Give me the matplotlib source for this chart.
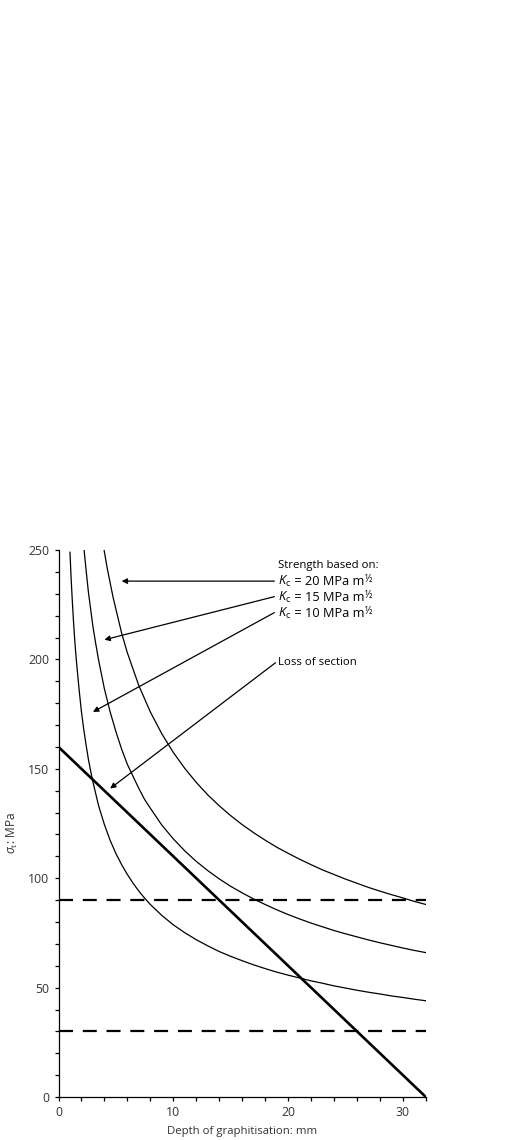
# plot.py
# Failure stress vs depth of graphitisation, saved as out.png

import matplotlib.pyplot as plt
from matplotlib.ticker import MultipleLocator
from matplotlib.offsetbox import TextArea, HPacker, AnnotationBbox

plt.rcParams["font.family"] = ["Open Sans", "DejaVu Sans"]
plt.rcParams["mathtext.fontset"] = "custom"
plt.rcParams["mathtext.rm"] = "Open Sans"
plt.rcParams["mathtext.it"] = "Open Sans:italic"
plt.rcParams["mathtext.sf"] = "Open Sans"

# values
kc10_x = [1.0, 1.1, 1.2, 1.3, 1.4, 1.5, 1.6, 1.8, 2.0, 2.2, 2.4, 2.6, 2.8, 3.0, 3.5, 4.0, 4.5, 5.0, 5.5, 6.0,
          6.5, 7.0, 7.5, 8.0, 9.0, 10.0, 11.0, 12.0, 13.0, 14.0, 15.0, 16.0, 17.0, 18.0, 19.0, 20.0, 21.0, 22.0,
          23.0, 24.0, 25.0, 26.0, 27.0, 28.0, 29.0, 30.0, 31.0, 32.0]
kc10_y = [249, 237, 227, 218, 210, 203, 197, 186, 176, 168, 161, 154.5, 149, 144, 133, 124.5, 117.3, 111.3, 106.2, 101.7,
          97.7, 94.1, 90.9, 88, 83, 78.7, 75.1, 71.9, 69.1, 66.5, 64.3, 62.3, 60.4, 58.7, 57.1, 55.7, 54.4, 53.1,
          52, 50.8, 49.8, 48.8, 47.9, 47.1, 46.2, 45.5, 44.7, 44]
kc15_x = [2.23, 2.4, 2.6, 2.8, 3.0, 3.25, 3.5, 3.75, 4.0, 4.5, 5.0, 5.5, 6.0, 6.5, 7.0, 7.5, 8.0, 9.0, 10.0, 11.0,
          12.0, 13.0, 14.0, 15.0, 16.0, 17.0, 18.0, 19.0, 20.0, 21.0, 22.0, 23.0, 24.0, 25.0, 26.0, 27.0, 28.0,
          29.0, 30.0, 31.0, 32.0]
kc15_y = [250, 241, 231, 223, 215, 207, 199.5, 193, 186.5, 176, 167, 159, 152, 146.5, 141, 136, 132, 124.3, 118,
          112.5, 107.7, 103.5, 99.7, 96.3, 93.3, 90.5, 88, 85.6, 83.4, 81.4, 79.5, 77.8, 76.1, 74.6, 73.2, 71.8,
          70.5, 69.3, 68.1, 67, 66]
kc20_x = [3.97, 4.25, 4.5, 4.75, 5.0, 5.5, 6.0, 6.5, 7.0, 7.5, 8.0, 8.5, 9.0, 10.0, 11.0, 12.0, 13.0, 14.0, 15.0,
          16.0, 17.0, 18.0, 19.0, 20.0, 21.0, 22.0, 23.0, 24.0, 25.0, 26.0, 27.0, 28.0, 29.0, 30.0, 31.0, 32.0]
kc20_y = [250, 241.5, 235, 228.5, 223, 212, 203, 195.5, 188, 182, 176, 171, 166, 157.5, 150.2, 143.8, 138.1, 133.1,
          128.6, 124.5, 120.8, 117.4, 114.2, 111.4, 108.7, 106.2, 103.8, 101.7, 99.6, 97.7, 95.8, 94.1, 92.5,
          91, 89.4, 88]
loss_x = [0, 32]
loss_y = [160, 0]
dash_levels = [90, 30]

# arrow labels, text y, tail and head (data units)
kc_values = ["20", "15", "10"]
label_y = [235.8, 228.5, 221.2]
arrow_tails = [(18.8, 235.8), (18.8, 228.7), (18.8, 221.4), (18.9, 198.5)]
arrow_heads = [(5.5, 235.8), (4.0, 209), (3.0, 176), (4.5, 141)]


def kc_label(ax, x, y, val):
    fs = 9.2
    parts = [
        TextArea(r"$K_{\rm c}$", textprops=dict(fontsize=fs)),
        TextArea(f" = {val} MPa m", textprops=dict(fontsize=fs)),
        TextArea(r"$^{½}$", textprops=dict(fontsize=fs + 1)),
    ]
    box = HPacker(children=parts, align="baseline", pad=0, sep=0)
    ab = AnnotationBbox(box, (x, y), box_alignment=(0, 0.5), frameon=False, pad=0)
    ax.add_artist(ab)


def main():
    fig = plt.figure(figsize=(5.2, 11.4), dpi=100)
    ax = fig.add_axes([0.1125, 0.0377, 0.7065, 0.4798])

    for xs, ys in [(kc10_x, kc10_y), (kc15_x, kc15_y), (kc20_x, kc20_y)]:
        ax.plot(xs, ys, color="black", lw=0.9)
    ax.plot(loss_x, loss_y, color="black", lw=1.9, solid_capstyle="butt")
    for lv in dash_levels:
        ax.plot([0, 32], [lv, lv], color="black", lw=1.6,
                linestyle=(0, (6.3, 4.4)))

    ax.set_xlim(0, 32)
    ax.set_ylim(0, 250)
    ax.xaxis.set_major_locator(MultipleLocator(10))
    ax.xaxis.set_minor_locator(MultipleLocator(2))
    ax.yaxis.set_major_locator(MultipleLocator(50))
    ax.yaxis.set_minor_locator(MultipleLocator(10))
    ax.tick_params(which="both", direction="out", length=3, width=0.9,
                   labelsize=8.8, labelcolor="#333333")
    for s in ["top", "right"]:
        ax.spines[s].set_visible(False)
    for s in ["left", "bottom"]:
        ax.spines[s].set_linewidth(0.9)

    ax.set_xlabel("Depth of graphitisation: mm", fontsize=8.2, color="#333333", labelpad=5)
    ax.set_ylabel(r"$\sigma_{\rm t}$: MPa", fontsize=8.6, color="#333333")
    ax.yaxis.set_label_coords(-0.105, 0.483)

    ax.text(19.1, 243.1, "Strength based on:", fontsize=8.2, va="center", ha="left")
    for v, yv in zip(kc_values, label_y):
        kc_label(ax, 19.1, yv, v)
    ax.text(19.1, 198.8, "Loss of section", fontsize=8.2, va="center", ha="left")

    for tail, head in zip(arrow_tails, arrow_heads):
        ax.annotate("", xy=head, xytext=tail,
                    arrowprops=dict(arrowstyle="-|>", color="black", lw=0.9,
                                    mutation_scale=8, shrinkA=0, shrinkB=0))

    fig.savefig("out.png", dpi=100)
    plt.close(fig)


if __name__ == "__main__":
    main()
